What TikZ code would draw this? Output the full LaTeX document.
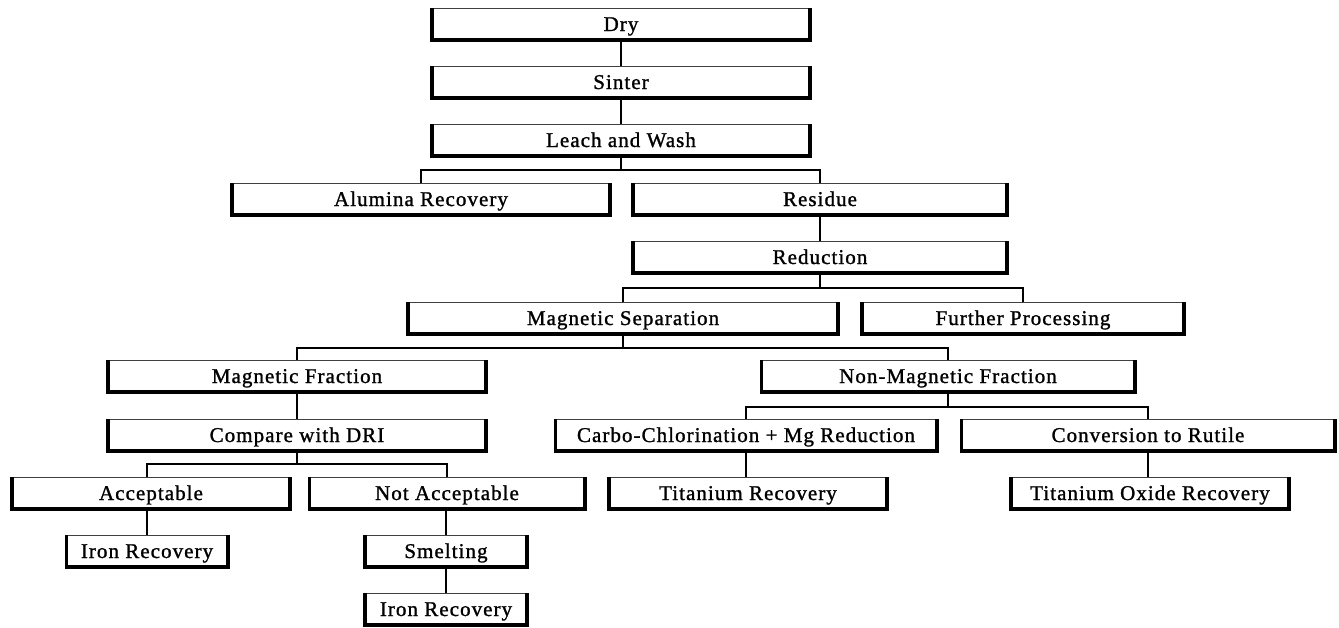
\documentclass[tikz,border=0pt]{standalone}
\usepackage{fontspec}
\setmainfont{Liberation Serif}[LetterSpace=5,FakeBold=1.2]
\tikzset{
  boxtxt/.style={inner sep=0pt, minimum height=31pt, text height=14pt, text depth=0pt, fill=white, font=\fontsize{21}{24}\selectfont},
  topline/.style={line width=1pt, black!75},
  sideline/.style={line width=3.6pt, line join=miter},
  conn/.style={line width=1.7pt}
}
\newcommand\pbox[5]{%
  \node[boxtxt, minimum width=#4pt] (#1) at (#2,#3) {#5};
  \draw[topline] (#1.north west) -- (#1.north east);
  \draw[sideline] (#1.north west) -- (#1.south west) -- (#1.south east) -- (#1.north east);
}
\begin{document}
\begin{tikzpicture}[x=1pt,y=-1pt]
\useasboundingbox (0,0) rectangle (1339,627);
\coordinate (b1) at (0,170);
\coordinate (b2) at (0,288);
\coordinate (b3) at (0,348);
\coordinate (b4) at (0,407);
\coordinate (b5) at (0,464);
% boxes
\pbox{dry}{621}{24}{378}{Dry}
\pbox{sinter}{621}{82}{378}{Sinter}
\pbox{leach}{621}{140}{378}{Leach and Wash}
\pbox{alumina}{421}{199}{378}{Alumina Recovery}
\pbox{residue}{820}{199}{374}{Residue}
\pbox{reduction}{820}{257}{374}{Reduction}
\pbox{magsep}{623}{318}{430}{Magnetic Separation}
\pbox{further}{1023}{318}{322}{Further Processing}
\pbox{magfrac}{297}{376}{378}{Magnetic Fraction}
\pbox{nonmag}{948}{376}{373}{Non-Magnetic Fraction}
\pbox{compare}{297}{435}{378}{Compare with DRI}
\pbox{carbo}{746}{435}{381}{Carbo-Chlorination + Mg Reduction}
\pbox{rutile}{1148}{435}{373}{Conversion to Rutile}
\pbox{accept}{151}{493}{278}{Acceptable}
\pbox{notacc}{447}{493}{275}{Not Acceptable}
\pbox{tirec}{748}{493}{278}{Titanium Recovery}
\pbox{tioxrec}{1150}{493}{278}{Titanium Oxide Recovery}
\pbox{ironA}{147}{551}{161}{Iron Recovery}
\pbox{smelt}{446}{551}{162}{Smelting}
\pbox{ironB}{446}{609}{162}{Iron Recovery}
% connectors
\draw[conn] (dry.south) -- (sinter.north);
\draw[conn] (sinter.south) -- (leach.north);
\draw[conn] (leach.south) -- (leach.south |- b1);
\draw[conn] (alumina.north) -- (alumina.north |- b1) -- (residue.north |- b1) -- (residue.north);
\draw[conn] (residue.south) -- (reduction.north);
\draw[conn] (reduction.south) -- (reduction.south |- b2);
\draw[conn] (magsep.north) -- (magsep.north |- b2) -- (further.north |- b2) -- (further.north);
\draw[conn] (magsep.south) -- (magsep.south |- b3);
\draw[conn] (magfrac.north) -- (magfrac.north |- b3) -- (nonmag.north |- b3) -- (nonmag.north);
\draw[conn] (magfrac.south) -- (compare.north);
\draw[conn] (nonmag.south) -- (nonmag.south |- b4);
\draw[conn] (carbo.north) -- (carbo.north |- b4) -- (rutile.north |- b4) -- (rutile.north);
\draw[conn] (compare.south) -- (compare.south |- b5);
\draw[conn] (ironA.north |- accept.north) -- (ironA.north |- b5) -- (notacc.north |- b5) -- (notacc.north);
\draw[conn] (ironA.north |- accept.south) -- (ironA.north);
\draw[conn] (smelt.north |- notacc.south) -- (smelt.north);
\draw[conn] (smelt.south) -- (ironB.north);
\draw[conn] (carbo.south) -- (carbo.south |- tirec.north);
\draw[conn] (rutile.south) -- (rutile.south |- tioxrec.north);
\end{tikzpicture}
\end{document}
